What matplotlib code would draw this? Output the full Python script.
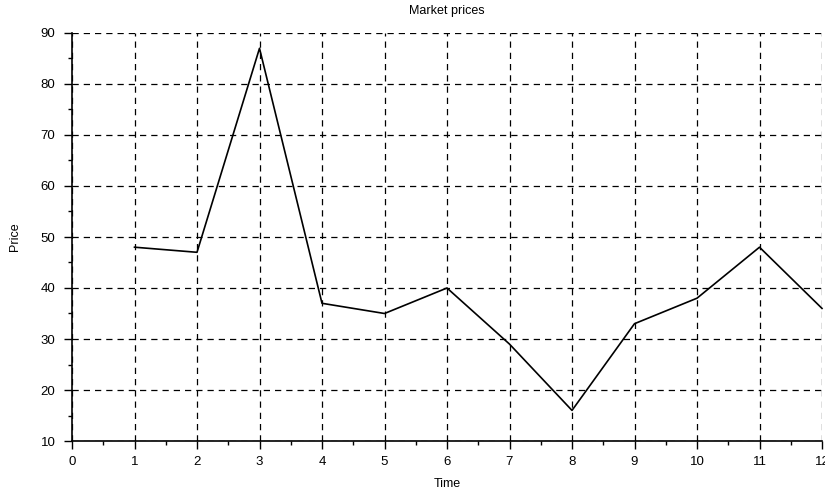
import matplotlib
matplotlib.use("Agg")
import matplotlib.pyplot as plt
from matplotlib.ticker import MultipleLocator

time = [1, 2, 3, 4, 5, 6, 7, 8, 9, 10, 11, 12]
price = [48, 47, 87, 37, 35, 40, 29, 16, 33, 38, 48, 36]

plt.rcParams['font.family'] = ['Liberation Sans', 'DejaVu Sans']

fig = plt.figure(figsize=(8.25, 4.9), dpi=100)
ax = fig.add_axes([72 / 825, 1 - 441 / 490, 750 / 825, 408 / 490])

ax.plot(time, price, color="black", lw=1.2, clip_on=False)

ax.set_xlim(0, 12)
ax.set_ylim(10, 90)
ax.xaxis.set_major_locator(MultipleLocator(1))
ax.xaxis.set_minor_locator(MultipleLocator(0.5))
ax.yaxis.set_major_locator(MultipleLocator(10))
ax.yaxis.set_minor_locator(MultipleLocator(5))

ax.grid(True, which="major", color="black", linestyle=(0, (5, 4)), lw=0.9)
for s in ["top", "right"]:
    ax.spines[s].set_visible(False)
ax.spines["left"].set_linewidth(1.2)
ax.spines["bottom"].set_linewidth(1.2)
ax.tick_params(which="major", length=6, width=1, labelsize=9.5, direction="out")
ax.tick_params(axis="y", which="major", pad=6)
ax.tick_params(axis="x", which="major", pad=5)
ax.tick_params(which="minor", length=3, width=1, direction="out")

ax.set_title("Market prices", fontsize=9, pad=14)
ax.set_xlabel("Time", fontsize=9, labelpad=7)
ax.set_ylabel("Price", fontsize=9, labelpad=14)

fig.savefig("out.png", dpi=100)
